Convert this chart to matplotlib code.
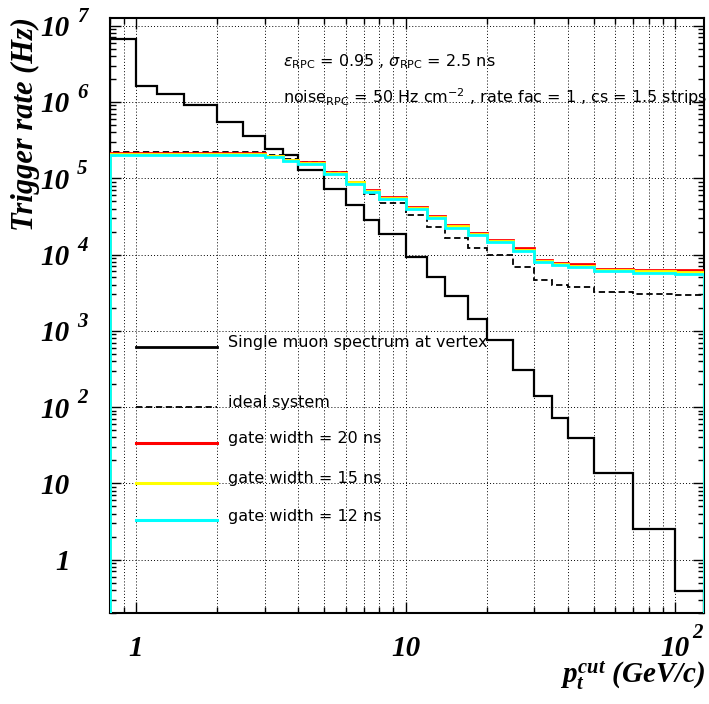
import matplotlib
matplotlib.use("Agg")
import matplotlib.pyplot as plt
import matplotlib.transforms as mtransforms
from matplotlib.ticker import LogLocator, NullFormatter

# bin edges in pt cut (GeV/c)
edges = [0.8, 1, 1.2, 1.5, 2, 2.5, 3, 3.5, 4, 5, 6, 7, 8, 10, 12, 14, 17, 20,
         25, 30, 35, 40, 50, 70, 100, 128]

single_muon = [6.6e6, 1.64e6, 1.27e6, 9.1e5, 5.5e5, 3.6e5, 2.4e5, 2.0e5, 1.27e5,
               7.2e4, 4.4e4, 2.8e4, 1.87e4, 9.3e3, 5.1e3, 2.9e3, 1.43e3, 760,
               307, 141, 71, 39, 13.6, 2.5, 0.39]
ideal = [2.22e5, 2.22e5, 2.22e5, 2.22e5, 2.22e5, 2.22e5, 2.0e5, 1.78e5, 1.64e5,
         1.2e5, 8.3e4, 6.3e4, 4.7e4, 3.29e4, 2.29e4, 1.66e4, 1.22e4, 9.8e3,
         6.95e3, 4.7e3, 4.0e3, 3.8e3, 3.26e3, 3.07e3, 2.98e3]
gate20 = [2.13e5, 2.13e5, 2.13e5, 2.13e5, 2.13e5, 2.13e5, 1.97e5, 1.74e5, 1.64e5,
          1.22e5, 9.06e4, 7.1e4, 5.7e4, 4.19e4, 3.19e4, 2.43e4, 1.93e4, 1.57e4,
          1.2e4, 8.6e3, 7.8e3, 7.4e3, 6.5e3, 6.3e3, 6.2e3]
gate15 = [2.08e5, 2.08e5, 2.08e5, 2.08e5, 2.08e5, 2.08e5, 1.93e5, 1.71e5, 1.58e5,
          1.18e5, 8.8e4, 6.85e4, 5.55e4, 4.05e4, 3.08e4, 2.34e4, 1.85e4, 1.52e4,
          1.15e4, 8.3e3, 7.5e3, 7.15e3, 6.25e3, 6.0e3, 5.9e3]
gate12 = [2.03e5, 2.03e5, 2.03e5, 2.03e5, 2.03e5, 2.03e5, 1.89e5, 1.69e5, 1.53e5,
          1.15e5, 8.5e4, 6.6e4, 5.4e4, 3.9e4, 2.98e4, 2.25e4, 1.78e4, 1.47e4,
          1.1e4, 8.0e3, 7.2e3, 6.9e3, 6.0e3, 5.7e3, 5.6e3]

labels = ["Single muon spectrum at vertex", "ideal system",
          "gate width = 20 ns", "gate width = 15 ns", "gate width = 12 ns"]

y_exps = [0, 1, 2, 3, 4, 5, 6, 7]
x_exps = [0, 1, 2]

plt.rcParams["mathtext.fontset"] = "custom"
plt.rcParams["mathtext.rm"] = "Liberation Serif:bold:italic"
plt.rcParams["mathtext.it"] = "Liberation Serif:bold:italic"
plt.rcParams["mathtext.bf"] = "Liberation Serif:bold:italic"

serif = dict(family="Liberation Serif", weight="bold", style="italic")
sans = dict(family="DejaVu Sans", fontsize=11.5)

fig = plt.figure(figsize=(7.09, 7.04), dpi=100)
ax = fig.add_axes([110 / 709, 1 - 613 / 704, 594 / 709, 595 / 704])
ax.set_xscale("log")
ax.set_yscale("log")
ax.set_xlim(0.8, 128)
ax.set_ylim(0.2, 1.26e7)

base = 1e-3
ax.stairs(single_muon, edges, baseline=base, color="black", lw=1.6, zorder=3)
ax.stairs(ideal, edges, baseline=base, color="black", lw=1.3, ls=(0, (3.5, 2)), zorder=3)
ax.stairs(gate20, edges, baseline=base, color="#ff0000", lw=2, zorder=4)
ax.stairs(gate15, edges, baseline=base, color="#ffff00", lw=2, zorder=5)
ax.stairs(gate12, edges, baseline=base, color="#00ffff", lw=2, zorder=6)

# ticks and grid, ROOT style
ax.xaxis.set_major_locator(LogLocator(base=10, numticks=10))
ax.xaxis.set_minor_locator(LogLocator(base=10, subs=range(2, 10), numticks=20))
ax.yaxis.set_major_locator(LogLocator(base=10, numticks=12))
ax.yaxis.set_minor_locator(LogLocator(base=10, subs=range(2, 10), numticks=20))
for axis in (ax.xaxis, ax.yaxis):
    axis.set_major_formatter(NullFormatter())
    axis.set_minor_formatter(NullFormatter())
ax.tick_params(which="both", direction="in", top=True, right=True, width=1)
ax.tick_params(which="major", length=8)
ax.tick_params(which="minor", length=4)
grid_style = dict(color="black", lw=0.7, ls=(0, (1, 2.2)))
ax.grid(True, which="both", axis="x", **grid_style)
ax.grid(True, which="major", axis="y", **grid_style)
ax.set_axisbelow(True)
for sp in ax.spines.values():
    sp.set_linewidth(1.5)

# tick labels: "10" with hanging exponent
ytrans = mtransforms.blended_transform_factory(fig.transFigure, ax.transData)
for k in y_exps:
    txt = "1" if k == 0 else "10"
    ax.text(70 / 709, 10.0 ** k, txt, transform=mtransforms.offset_copy(ytrans, fig, 0, -3, units="dots"),
            ha="right", va="center", fontsize=21, **serif)
    if k >= 2:
        ax.text(77 / 709, 10.0 ** k, str(k), transform=mtransforms.offset_copy(ytrans, fig, 0, 9, units="dots"),
                ha="left", va="center", fontsize=15, **serif)

xtrans = mtransforms.blended_transform_factory(ax.transData, fig.transFigure)
for k in x_exps:
    txt = "1" if k == 0 else "10"
    ax.text(10.0 ** k, 1 - 648 / 704, txt, transform=xtrans, ha="center", va="center",
            fontsize=21, **serif)
    if k >= 2:
        ax.text(10.0 ** k, 1 - 633 / 704, str(k),
                transform=mtransforms.offset_copy(xtrans, fig, 17, 0, units="dots"),
                ha="left", va="center", fontsize=15, **serif)

# axis titles
fig.text(25 / 709, 1 - 17 / 704, "Trigger rate (Hz)", rotation=90, ha="center", va="top",
         fontsize=22, **serif)
fig.text(706 / 709, 1 - 683 / 704, r"$p_{t}^{cut}$ (GeV/c)", ha="right", va="baseline",
         fontsize=21, **serif)

# annotations
fig.text(283 / 709, 1 - 62 / 704,
         r"$\varepsilon_{\mathregular{RPC}}$ = 0.95 , $\sigma_{\mathregular{RPC}}$ = 2.5 ns",
         ha="left", va="center", math_fontfamily="dejavusans", **sans)
fig.text(283 / 709, 1 - 97 / 704,
         r"noise$_{\mathregular{RPC}}$ = 50 Hz cm$^{\mathregular{-2}}$ , rate fac = 1 , cs = 1.5 strips",
         ha="left", va="center", math_fontfamily="dejavusans", **sans)

# legend
key_styles = [dict(color="black", lw=2), dict(color="black", lw=1.3, ls=(0, (3.5, 2))),
              dict(color="#ff0000", lw=2.2), dict(color="#ffff00", lw=2.2),
              dict(color="#00ffff", lw=2.2)]
key_y = [347, 407, 443, 483, 520]
for lab, st, ypx in zip(labels, key_styles, key_y):
    yf = (613 - ypx) / 595
    ax.plot([(136 - 110) / 594, (217 - 110) / 594], [yf, yf], transform=ax.transAxes, zorder=7, **st)
    ax.text((228 - 110) / 594, yf + 4 / 595, lab, transform=ax.transAxes, ha="left", va="center",
            zorder=7, **sans)

fig.savefig("out.png", dpi=100)
